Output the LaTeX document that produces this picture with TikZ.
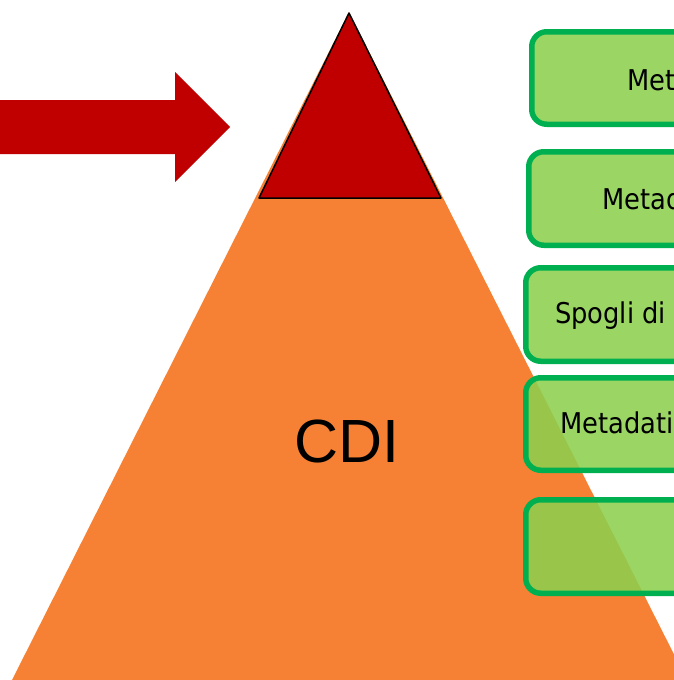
\documentclass[tikz,border=0pt]{standalone}
\usepackage{fontspec}
\setmainfont{Liberation Sans}
\newfontfamily\boxfont[FakeStretch=0.9]{DejaVu Sans}
\definecolor{pyrorange}{RGB}{246,129,52}
\definecolor{pyrred}{RGB}{192,0,0}
\definecolor{boxfill}{RGB}{141,207,79}
\definecolor{boxline}{RGB}{0,176,80}
\tikzset{
  greenbox/.style={draw=boxline, line width=5.5pt, fill=boxfill, fill opacity=0.88, draw opacity=1, rounded corners=15pt},
  boxtext/.style={anchor=base west, inner sep=0pt, font=\boxfont\fontsize{28.6}{30}\selectfont, text=black},
}
\begin{document}
\begin{tikzpicture}[x=1pt,y=-1pt]
\useasboundingbox (0,0) rectangle (674,680);
\clip (0,0) rectangle (674,680);
% orange pyramid
\fill[pyrorange] (349,12) -- (687,680) -- (12,680) -- cycle;
% red top
\draw[fill=pyrred, draw=black, line width=1.5pt, line join=round] (349,13) -- (441,198) -- (259,198) -- cycle;
% arrow
\fill[pyrred] (-5,100) -- (175,100) -- (175,72) -- (230,127) -- (175,182) -- (175,154) -- (-5,154) -- cycle;
\node[font=\fontsize{61}{64}\selectfont, anchor=base, inner sep=0pt] (cdi) at (347,462) {CDI};
% green boxes
\draw[greenbox] (531.75,31.75) rectangle (740,124.25);
\draw[greenbox] (528.75,151.75) rectangle (740,245.25);
\draw[greenbox] (525.75,267.75) rectangle (740,361.25);
\draw[greenbox] (525.75,377.75) rectangle (740,470.25);
\draw[greenbox] (525.75,499.75) rectangle (740,593.25);
\node[boxtext] (t1) at (627,90) {Met};
\node[boxtext] (t2) at (602,209) {Metad};
\node[boxtext] (t3) at (555,323) {Spogli di};
\node[boxtext] (t4) at (560,433) {Metadati};
\end{tikzpicture}
\end{document}
